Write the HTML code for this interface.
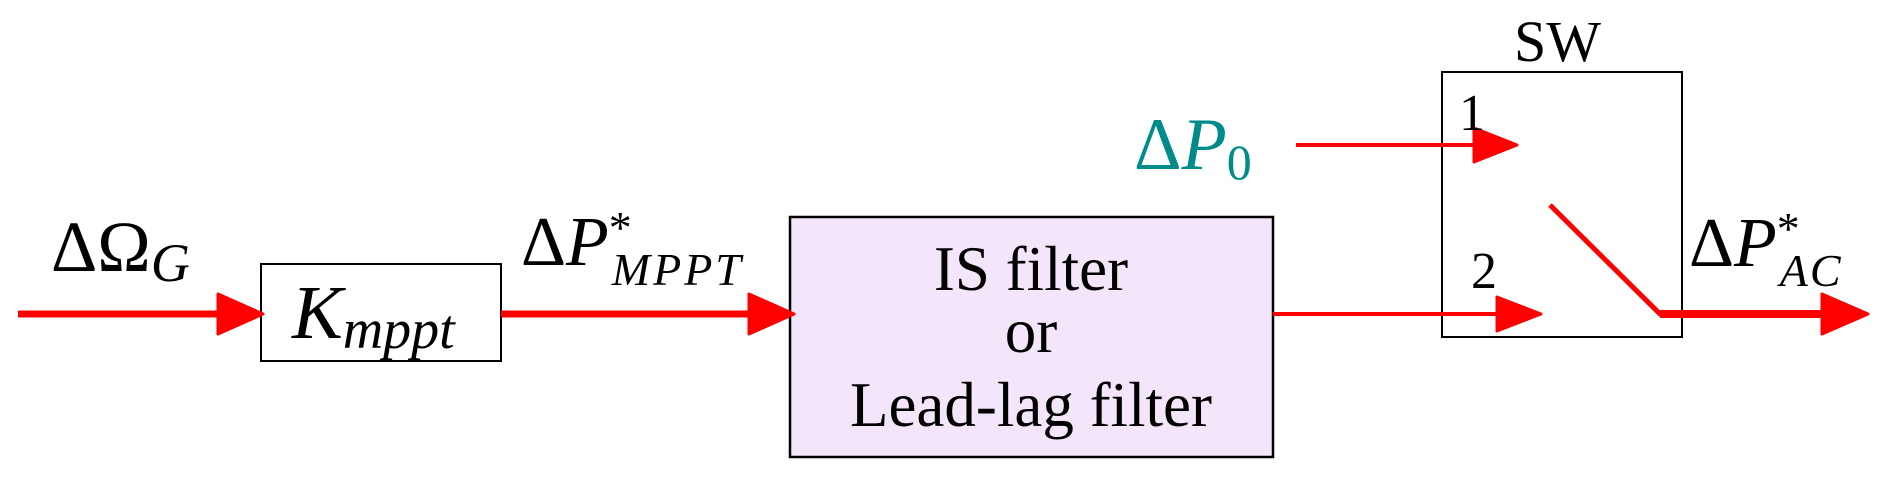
<!DOCTYPE html>
<html><head><meta charset="utf-8"><style>
html,body{margin:0;padding:0;background:#fff;}
svg{display:block;}
text{font-family:"Liberation Serif",serif;fill:#000;}
</style></head><body>
<svg width="1892" height="478" viewBox="0 0 1892 478" xmlns="http://www.w3.org/2000/svg">
<rect x="261" y="264" width="240" height="97" fill="#fff" stroke="#000" stroke-width="2"/>
<rect x="790" y="217" width="483" height="240" fill="#f3e6fb" stroke="#000" stroke-width="2.5"/>
<rect x="1442" y="72" width="240" height="265" fill="none" stroke="#000" stroke-width="2"/>
<g stroke="#ff0000" fill="none" stroke-linecap="butt">
<line x1="18" y1="314" x2="225" y2="314" stroke-width="7"/>
<line x1="501" y1="314" x2="757" y2="314" stroke-width="7"/>
<line x1="1273" y1="314" x2="1505" y2="314" stroke-width="4"/>
<line x1="1296" y1="145" x2="1482" y2="145" stroke-width="4"/>
<polyline points="1550,205 1660,314 1830,314" stroke-width="5"/>
<line x1="1660" y1="314" x2="1830" y2="314" stroke-width="8"/>
</g>
<g fill="#ff0000" stroke="#ff0000" stroke-linejoin="round" stroke-width="3">
<polygon points="218,294 263,314 218,334"/>
<polygon points="749,294 794,314 749,334"/>
<polygon points="1497,297 1541,314 1497,331"/>
<polygon points="1474,128 1517,145 1474,162"/>
<polygon points="1822,294 1868,314 1822,334"/>
</g>
<text x="51" y="271" font-size="72">ΔΩ<tspan font-style="italic" font-size="54" dy="10">G</tspan></text>
<text x="292" y="338" font-size="76" font-style="italic">K<tspan font-size="56" dy="10">mppt</tspan></text>
<text x="521" y="265" font-size="70">Δ<tspan font-style="italic">P</tspan><tspan font-size="46" dy="-22">*</tspan><tspan font-style="italic" font-size="46" dx="-20" dy="42" letter-spacing="3">MPPT</tspan></text>
<text x="1031" y="290" font-size="63" text-anchor="middle">IS filter</text>
<text x="1031" y="352" font-size="63" text-anchor="middle">or</text>
<text x="1031" y="426" font-size="63" text-anchor="middle">Lead-lag filter</text>
<text x="1134" y="169" font-size="74" style="fill:#008b8b">Δ<tspan font-style="italic" style="fill:#008b8b">P</tspan><tspan font-size="50" dy="10" style="fill:#008b8b">0</tspan></text>
<text x="1514" y="61" font-size="58">SW</text>
<text x="1459" y="130" font-size="52">1</text>
<text x="1471" y="288" font-size="52">2</text>
<text x="1689" y="266" font-size="70">Δ<tspan font-style="italic">P</tspan><tspan font-size="46" dy="-22">*</tspan><tspan font-style="italic" font-size="46" dx="-20" dy="42" letter-spacing="2">AC</tspan></text>
</svg>
</body></html>
